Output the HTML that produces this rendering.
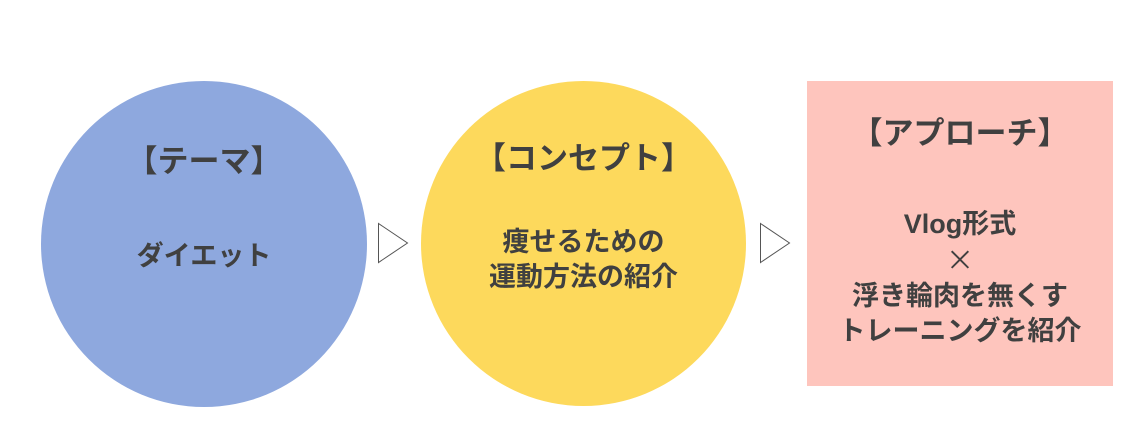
<!DOCTYPE html>
<html><head><meta charset="utf-8"><style>
body{margin:0;width:1145px;height:445px;background:#fff;position:relative;overflow:hidden;font-family:"Liberation Sans","Noto Sans CJK JP",sans-serif;color:#404040;font-weight:bold}
.s{position:absolute;box-sizing:border-box}
.t{position:absolute;left:0;right:0;text-align:center;white-space:nowrap}
.h{font-size:31px;line-height:40px}
.b{font-size:27px;line-height:35px}
</style></head><body>
<div class="s" style="left:41px;top:81px;width:326px;height:326px;border-radius:50%;background:#8ea8de">
  <div class="t h" style="top:61px">【テーマ】</div>
  <div class="t b" style="top:158px">ダイエット</div>
</div>
<div class="s" style="left:421px;top:81px;width:325px;height:325px;border-radius:50%;background:#fdd95c">
  <div class="t h" style="top:58px">【コンセプト】</div>
  <div class="t b" style="top:144px">痩せるための<br>運動方法の紹介</div>
</div>
<div class="s" style="left:807px;top:81px;width:306px;height:305px;background:#fec5bd">
  <div class="t h" style="top:33px">【アプローチ】</div>
  <div class="t b" style="top:126px">Vlog形式<br><span style="font-family:'Noto Sans CJK JP',sans-serif;font-weight:normal;font-size:28px">×</span><br>浮き輪肉を無くす<br>トレーニングを紹介</div>
</div>
<svg class="s" style="left:0;top:0" width="1145" height="445">
<polygon points="378.5,223.5 407.5,243 378.5,262.5" fill="#fff" stroke="#555" stroke-width="1"/>
<polygon points="760.5,223.5 789.5,243 760.5,262.5" fill="#fff" stroke="#555" stroke-width="1"/>
</svg>
</body></html>
